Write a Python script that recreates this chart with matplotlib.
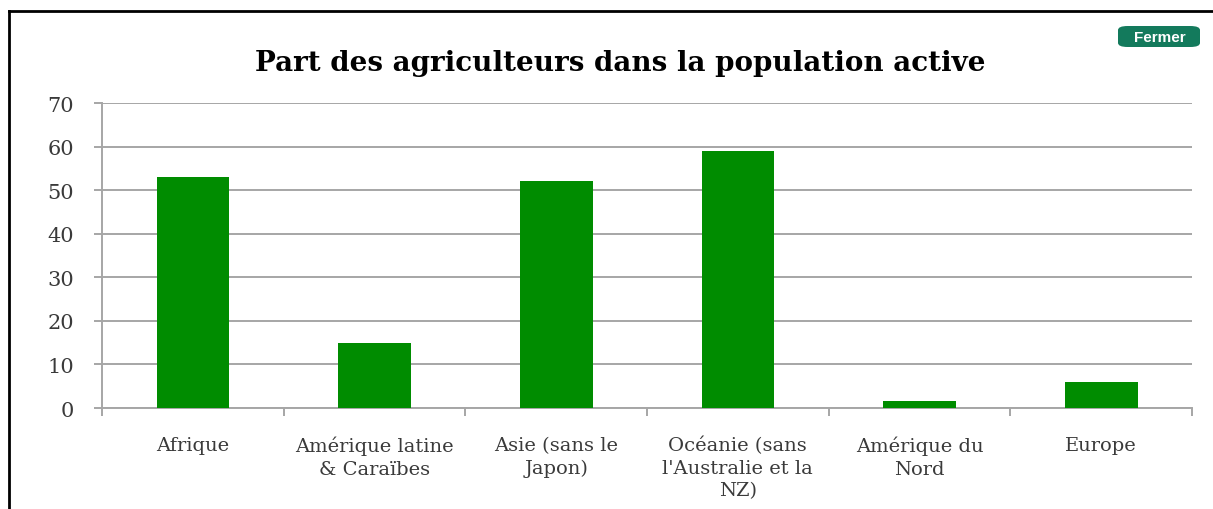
import matplotlib
matplotlib.use("Agg")
import matplotlib.pyplot as plt
from matplotlib.patches import FancyBboxPatch
from matplotlib.lines import Line2D

# data
regions = ["Afrique", "Amérique latine\n& Caraïbes", "Asie (sans le\nJapon)",
           "Océanie (sans\nl'Australie et la\nNZ)", "Amérique du\nNord", "Europe"]
share_pct = [53, 15, 52, 59, 1.5, 6]
y_ticks = [0, 10, 20, 30, 40, 50, 60, 70]

title = "Part des agriculteurs dans la population active"
bar_color = "#008C00"
grid_color = "#A6A6A6"
label_color = "#3A3A3A"

fig = plt.figure(figsize=(12.13, 5.10), dpi=100)
ax = fig.add_axes([0.0841, 0.198, 0.8986, 0.598])

x = range(len(regions))
ax.bar(x, share_pct, width=0.4, color=bar_color, zorder=3)

ax.set_xlim(-0.5, len(regions) - 0.5)
ax.set_ylim(0, 70)
ax.set_yticks(y_ticks)
ax.set_yticklabels([str(v) for v in y_ticks], family="DejaVu Serif",
                   fontsize=15, color=label_color)
ax.yaxis.grid(True, color=grid_color, linewidth=1.4, zorder=0)
ax.tick_params(axis="y", length=6, width=1.4, color=grid_color, pad=14)

# category labels between boundary ticks
ax.set_xticks([i - 0.5 for i in range(len(regions) + 1)])
ax.set_xticklabels([])
ax.tick_params(axis="x", length=6, width=1.4, color=grid_color)
for i, lab in enumerate(regions):
    ax.text(i, -6.4, lab, ha="center", va="top", family="DejaVu Serif",
            fontsize=14, color=label_color, linespacing=1.32)

for side in ("top", "right"):
    ax.spines[side].set_visible(False)
for side in ("left", "bottom"):
    ax.spines[side].set_color(grid_color)
    ax.spines[side].set_linewidth(1.4)

fig.text(0.511, 0.876, title, ha="center", va="center", family="DejaVu Serif",
         fontsize=20, fontweight="bold", color="black")

# "Fermer" button
btn = FancyBboxPatch((1118 / 1213, 1 - 48 / 510), 82 / 1213, 21 / 510,
                     boxstyle="round,pad=0,rounding_size=0.008",
                     transform=fig.transFigure, facecolor="#137A5C",
                     edgecolor="none")
fig.patches.append(btn)
fig.text(1160 / 1213, 1 - 37.5 / 510, "Fermer", ha="center", va="center",
         family="Liberation Sans", fontsize=11, fontweight="bold", color="white")

# frame lines top and left
fig.lines.append(Line2D([9 / 1213, 1.0], [1 - 12 / 510, 1 - 12 / 510],
                        transform=fig.transFigure, color="black", linewidth=2))
fig.lines.append(Line2D([9 / 1213, 9 / 1213], [0, 1 - 12 / 510],
                        transform=fig.transFigure, color="black", linewidth=2))

fig.savefig("out.png", dpi=100, facecolor="white")
